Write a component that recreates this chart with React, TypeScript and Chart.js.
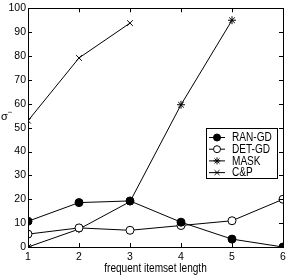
import React, { useEffect, useRef } from "react";
import { Chart, registerables } from "chart.js";

Chart.register(...registerables);

const lengths = [1, 2, 3, 4, 5, 6];
const ranGD = [10.8, 18.6, 19.3, 10.4, 3.3, 0];
const detGD = [5.4, 8, 7, 9, 11, 20];
const mask = [0, 7.5, 19, 59.6, 95];
const cp = [52.9, 79.2, 93.8];
const yTicks = [0, 10, 20, 30, 40, 50, 60, 70, 80, 90, 100];
const xTitle = "frequent itemset length";
const FONT = "'Liberation Sans', Arial, sans-serif";

const toPts = (vals: number[]) => vals.map((v, i) => ({ x: lengths[i], y: v }));

function drawPoint(ctx: CanvasRenderingContext2D, o: any, x: number, y: number) {
  const r = o.radius;
  ctx.beginPath();
  if (o.pointStyle === "circle") {
    ctx.arc(x, y, r, 0, Math.PI * 2);
    ctx.fill();
    ctx.stroke();
  } else if (o.pointStyle === "star") {
    for (let k = 0; k < 4; k++) {
      const ang = (k * Math.PI) / 4;
      ctx.moveTo(x - Math.cos(ang) * r, y - Math.sin(ang) * r);
      ctx.lineTo(x + Math.cos(ang) * r, y + Math.sin(ang) * r);
    }
    ctx.stroke();
  } else {
    const d = r * Math.SQRT1_2;
    ctx.moveTo(x - d, y - d); ctx.lineTo(x + d, y + d);
    ctx.moveTo(x - d, y + d); ctx.lineTo(x + d, y - d);
    ctx.stroke();
  }
}

function narrowText(ctx: CanvasRenderingContext2D, s: string, x: number, y: number, align: CanvasTextAlign) {
  ctx.save();
  ctx.translate(x, y);
  ctx.scale(0.84, 1);
  ctx.textAlign = align;
  ctx.fillText(s, 0, 0);
  ctx.restore();
}

const decor = {
  id: "decor",
  afterDraw(chart: any) {
    const ctx = chart.ctx;
    const a = chart.chartArea;
    const xs = chart.scales.x;
    const ys = chart.scales.y;
    ctx.save();
    ctx.strokeStyle = "#000";
    ctx.lineWidth = 1;
    ctx.strokeRect(Math.round(a.left) + 0.5, Math.round(a.top) + 0.5, Math.round(a.right - a.left), Math.round(a.bottom - a.top));
    const t = 4;
    ctx.beginPath();
    for (const v of lengths) {
      const px = Math.round(xs.getPixelForValue(v)) + 0.5;
      ctx.moveTo(px, a.bottom); ctx.lineTo(px, a.bottom - t);
      ctx.moveTo(px, a.top); ctx.lineTo(px, a.top + t);
    }
    for (const v of yTicks) {
      const py = Math.round(ys.getPixelForValue(v)) + 0.5;
      ctx.moveTo(a.left, py); ctx.lineTo(a.left + t, py);
      ctx.moveTo(a.right, py); ctx.lineTo(a.right - t, py);
    }
    ctx.stroke();
    ctx.fillStyle = "#000";
    ctx.font = `12px ${FONT}`;
    ctx.textBaseline = "middle";
    narrowText(ctx, xTitle, (a.left + a.right) / 2, 269, "center");
    // y label sigma_I
    ctx.font = `11px ${FONT}`;
    ctx.textAlign = "left";
    ctx.fillText("σ", 1, 117);
    ctx.save();
    ctx.translate(10, 113);
    ctx.rotate(-Math.PI / 2);
    ctx.font = `6px ${FONT}`;
    ctx.fillText("I", 0, 0);
    ctx.restore();
    // legend
    const lx = 206, ly = 128, lw = 71, lh = 50;
    ctx.fillStyle = "#fff";
    ctx.fillRect(lx, ly, lw, lh);
    ctx.strokeRect(lx + 0.5, ly + 0.5, lw, lh);
    chart.data.datasets.forEach((ds: any, i: number) => {
      const yy = ly + 9.5 + i * 11.7;
      ctx.beginPath();
      ctx.moveTo(lx + 3, yy);
      ctx.lineTo(lx + 19, yy);
      ctx.strokeStyle = "#000";
      ctx.lineWidth = 1;
      ctx.stroke();
      ctx.fillStyle = ds.pointBackgroundColor;
      ctx.strokeStyle = "#000";
      drawPoint(ctx, { pointStyle: ds.pointStyle, radius: ds.pointRadius - 0.5 }, lx + 11, yy);
      ctx.fillStyle = "#000";
      ctx.font = `12px ${FONT}`;
      ctx.textBaseline = "middle";
      narrowText(ctx, ds.label, lx + 26, yy + 0.5, "left");
    });
    ctx.restore();
  },
};

export default function App() {
  const ref = useRef<HTMLCanvasElement>(null);
  useEffect(() => {
    const base = { borderColor: "#000", borderWidth: 1, pointBorderColor: "#000", pointBorderWidth: 1, tension: 0 };
    const chart = new Chart(ref.current!, {
      type: "line",
      data: {
        datasets: [
          { ...base, label: "RAN-GD", data: toPts(ranGD), pointStyle: "circle", pointRadius: 4, pointBackgroundColor: "#000" },
          { ...base, label: "DET-GD", data: toPts(detGD), pointStyle: "circle", pointRadius: 4, pointBackgroundColor: "#fff" },
          { ...base, label: "MASK", data: toPts(mask), pointStyle: "star", pointRadius: 4, pointBackgroundColor: "#000" },
          { ...base, label: "C&P", data: toPts(cp), pointStyle: "crossRot", pointRadius: 4, pointBackgroundColor: "#000" },
        ] as any,
      },
      plugins: [decor],
      options: {
        animation: false,
        responsive: false,
        devicePixelRatio: 1,
        layout: { padding: { left: 0, right: 8, top: 2.7, bottom: 0 } },
        plugins: { legend: { display: false }, tooltip: { enabled: false } },
        scales: {
          x: {
            type: "linear",
            min: 1,
            max: 6,
            afterBuildTicks: (s: any) => { s.ticks = lengths.map((v) => ({ value: v })); },
            afterFit: (s: any) => { s.height = 30; },
            grid: { display: false, drawTicks: false },
            border: { display: false },
            ticks: { color: "#000", font: { family: FONT, size: 10.5 }, padding: 4, maxRotation: 0 },
          },
          y: {
            min: 0,
            max: 100,
            afterBuildTicks: (s: any) => { s.ticks = yTicks.map((v) => ({ value: v })); },
            afterFit: (s: any) => { s.width = 28; },
            grid: { display: false, drawTicks: false },
            border: { display: false },
            ticks: { color: "#000", font: { family: FONT, size: 10.5 }, padding: 2 },
          },
        },
      } as any,
    });
    return () => chart.destroy();
  }, []);
  return (
    <div style={{ position: "fixed", left: 0, top: 0, width: 291, height: 277, background: "#fff" }}>
      <canvas ref={ref} width={291} height={277} style={{ width: 291, height: 277 }} />
    </div>
  );
}
